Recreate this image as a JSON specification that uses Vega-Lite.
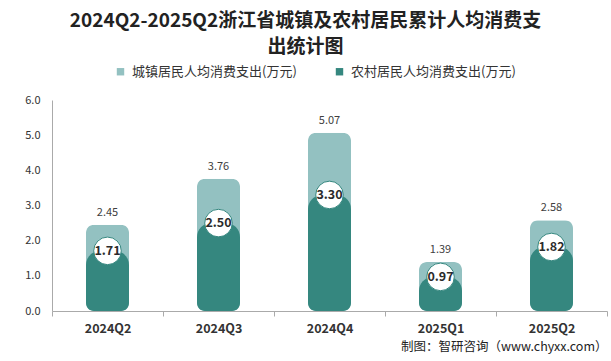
{
  "$schema": "https://vega.github.io/schema/vega-lite/v6.json",
  "width": 555,
  "height": 211,
  "autosize": {"type": "none"},
  "padding": {"left": 52, "top": 100, "right": 4, "bottom": 50},
  "background": "white",
  "title": {
    "text": ["2024Q2-2025Q2浙江省城镇及农村居民累计人均消费支", "出统计图"],
    "anchor": "middle",
    "frame": "group",
    "dx": -24,
    "offset": 8,
    "font": "Noto Sans CJK SC",
    "fontSize": 19,
    "fontWeight": "bold",
    "color": "#222222",
    "lineHeight": 26
  },
  "data": {
    "values": [
      {"q": "2024Q2", "urban": 2.45, "rural": 1.71},
      {"q": "2024Q3", "urban": 3.76, "rural": 2.50},
      {"q": "2024Q4", "urban": 5.07, "rural": 3.30},
      {"q": "2025Q1", "urban": 1.39, "rural": 0.97},
      {"q": "2025Q2", "urban": 2.58, "rural": 1.82}
    ]
  },
  "encoding": {
    "x": {
      "field": "q",
      "type": "nominal",
      "sort": null,
      "scale": {"paddingInner": 0, "paddingOuter": 0},
      "axis": {
        "title": "制图：智研咨询（www.chyxx.com）",
        "titleAnchor": "end",
        "titleAlign": "right",
        "titleFont": "Noto Sans CJK SC",
        "titleFontSize": 12.5,
        "titleFontWeight": "normal",
        "titleColor": "#222222",
        "titlePadding": 6,
        "labelAngle": 0,
        "labelFont": "Noto Sans CJK SC",
        "labelFontSize": 12.5,
        "labelFontWeight": "bold",
        "labelColor": "#333333",
        "labelPadding": 6,
        "tickBand": "extent",
        "ticks": true,
        "tickSize": 5,
        "tickColor": "#aaaaaa",
        "domainColor": "#aaaaaa",
        "grid": false
      }
    }
  },
  "layer": [
    {
      "mark": {"type": "bar", "size": 43, "cornerRadiusTopLeft": 8, "cornerRadiusTopRight": 8, "cornerRadiusBottomLeft": 8, "cornerRadiusBottomRight": 8},
      "encoding": {
        "y": {
          "field": "urban",
          "type": "quantitative",
          "scale": {"domain": [0, 6]},
          "axis": {
            "title": null,
            "values": [0, 1, 2, 3, 4, 5, 6],
            "format": ".1f",
            "labelOverlap": false
          }
        },
        "color": {
          "datum": "城镇居民人均消费支出(万元)",
          "scale": {
            "domain": ["城镇居民人均消费支出(万元)", "农村居民人均消费支出(万元)"],
            "range": ["#93c1c1", "#35877f"]
          },
          "legend": {
            "title": null,
            "orient": "none",
            "direction": "horizontal",
            "legendX": 62,
            "legendY": -35,
            "symbolType": "square",
            "symbolSize": 55,
            "labelFont": "Noto Sans CJK SC",
            "labelFontSize": 13,
            "labelColor": "#333333",
            "labelLimit": 400,
            "columnPadding": 36,
            "labelOffset": 5
          }
        }
      }
    },
    {
      "mark": {"type": "text", "dy": -12, "baseline": "middle", "font": "Noto Sans CJK SC", "fontSize": 11, "color": "#404040"},
      "encoding": {
        "y": {"field": "urban", "type": "quantitative", "axis": {"title": null, "values": [0, 1, 2, 3, 4, 5, 6], "format": ".1f", "labelOverlap": false}},
        "text": {"field": "urban", "type": "quantitative", "format": ".2f"}
      }
    },
    {
      "mark": {"type": "bar", "size": 43, "cornerRadiusTopLeft": 14, "cornerRadiusTopRight": 14, "cornerRadiusBottomLeft": 8, "cornerRadiusBottomRight": 8},
      "encoding": {
        "y": {"field": "rural", "type": "quantitative", "axis": {"title": null, "values": [0, 1, 2, 3, 4, 5, 6], "format": ".1f", "labelOverlap": false}},
        "color": {"datum": "农村居民人均消费支出(万元)"}
      }
    },
    {
      "mark": {"type": "point", "shape": "circle", "filled": true, "size": 760, "fill": "white", "stroke": "#35877f", "strokeWidth": 1, "opacity": 1},
      "encoding": {
        "y": {"field": "rural", "type": "quantitative", "axis": {"title": null, "values": [0, 1, 2, 3, 4, 5, 6], "format": ".1f", "labelOverlap": false}}
      }
    },
    {
      "mark": {"type": "text", "baseline": "middle", "font": "Noto Sans CJK SC", "fontSize": 12.5, "fontWeight": "bold", "color": "#2b2b2b"},
      "encoding": {
        "y": {"field": "rural", "type": "quantitative", "axis": {"title": null, "values": [0, 1, 2, 3, 4, 5, 6], "format": ".1f", "labelOverlap": false}},
        "text": {"field": "rural", "type": "quantitative", "format": ".2f"}
      }
    }
  ],
  "config": {
    "view": {"stroke": null},
    "axisY": {
      "labelOverlap": false,
      "grid": false,
      "ticks": false,
      "labelPadding": 12,
      "labelFont": "Noto Sans CJK SC",
      "labelFontSize": 11,
      "labelColor": "#333333",
      "domainColor": "#aaaaaa"
    }
  }
}
